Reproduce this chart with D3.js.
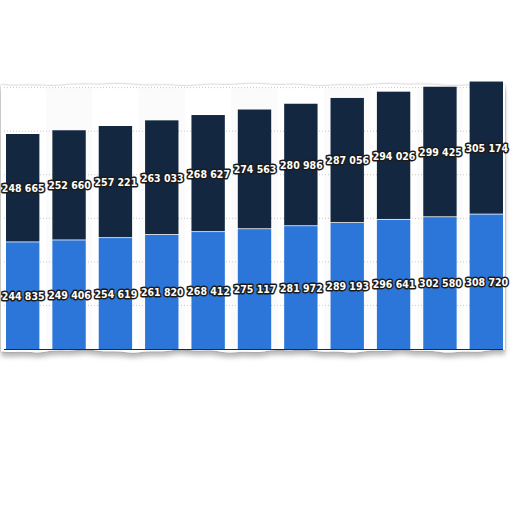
<!DOCTYPE html>
<html>
<head>
<meta charset="utf-8">
<script src="https://cdn.jsdelivr.net/npm/d3@7"></script>
<style>
  html, body { margin: 0; padding: 0; background: #fff; }
  .viz { width: 512px; height: 512px; }
</style>
</head>
<body>
<div class="viz"></div>
<script>
const w = 512;
const h = 512;

// data
const years = ["2009", "2010", "2011", "2012", "2013", "2014", "2015", "2016", "2017", "2018", "2019"];
const lower = [244835, 249406, 254619, 261820, 268412, 275117, 281972, 289193, 296641, 302580, 308720];
const upper = [248665, 252660, 257221, 263033, 268627, 274563, 280986, 287056, 294026, 299425, 305174];
const yTicks = [0, 100000, 200000, 300000, 400000, 500000, 600000];

const blue = "#2b76d8";
const navy = "#132840";

const svg = d3.select(".viz")
    .append("svg")
    .attr("width", w)
    .attr("height", h);

const x = d3.scaleBand()
    .domain(years)
    .range([6, 503])
    .paddingInner(0.28)
    .paddingOuter(0);

const y = d3.scaleLinear()
    .domain([0, 600000])
    .range([349, 87.6]);

// torn paper look
const defs = svg.append("defs");
const f = defs.append("filter").attr("id", "shadow")
    .attr("x", "-5%").attr("y", "-10%").attr("width", "110%").attr("height", "125%");
f.append("feDropShadow")
    .attr("in", "SourceGraphic")
    .attr("dx", 0).attr("dy", 0)
    .attr("stdDeviation", 0.9)
    .attr("flood-color", "#777")
    .attr("flood-opacity", 0.7)
    .attr("result", "s1");
f.append("feDropShadow")
    .attr("in", "SourceGraphic")
    .attr("dx", 0).attr("dy", 5)
    .attr("stdDeviation", 2)
    .attr("flood-color", "#777")
    .attr("flood-opacity", 0.5)
    .attr("result", "s2");
const fm = f.append("feMerge");
fm.append("feMergeNode").attr("in", "s2");
fm.append("feMergeNode").attr("in", "s1");

const edgeTop = [], edgeBottom = [];
for (let px = 1; px <= 505; px += 6) {
    edgeTop.push([px, 85 + Math.sin(px / 23) * 0.8 + Math.sin(px / 7) * 0.4]);
    edgeBottom.push([px, 351 + Math.sin(px / 17) * 1.2 + Math.sin(px / 5) * 0.5]);
}
const paper = edgeTop.concat(edgeBottom.reverse());
svg.append("path")
    .attr("d", d3.line()(paper) + "Z")
    .attr("fill", "#fff")
    .attr("filter", "url(#shadow)");

// faint column bands
svg.selectAll("rect.band")
    .data(years.filter((d, i) => i % 2 === 1))
    .enter()
    .append("rect")
    .attr("class", "band")
    .attr("x", d => x(d) - x.step() * x.paddingInner() / 2)
    .attr("y", 88)
    .attr("width", x.step())
    .attr("height", 261)
    .attr("fill", "#fbfbfb");

// dotted grid
svg.selectAll("line.grid")
    .data(yTicks.slice(1))
    .enter()
    .append("line")
    .attr("class", "grid")
    .attr("x1", 4)
    .attr("x2", 503)
    .attr("y1", d => y(d))
    .attr("y2", d => y(d))
    .attr("stroke", "#c8c8c8")
    .attr("stroke-width", 1)
    .attr("stroke-dasharray", "1,2");

const rows = years.map((d, i) => ({ year: d, lo: lower[i], up: upper[i] }));

svg.selectAll("rect.lo")
    .data(rows)
    .enter()
    .append("rect")
    .attr("class", "lo")
    .attr("x", d => x(d.year))
    .attr("y", d => y(d.lo))
    .attr("width", x.bandwidth())
    .attr("height", d => y(0) - y(d.lo))
    .attr("fill", blue);

svg.selectAll("rect.up")
    .data(rows)
    .enter()
    .append("rect")
    .attr("class", "up")
    .attr("x", d => x(d.year))
    .attr("y", d => y(d.lo + d.up))
    .attr("width", x.bandwidth())
    .attr("height", d => y(d.lo) - y(d.lo + d.up) - 0.8)
    .attr("fill", navy);

// axis line
svg.append("line")
    .attr("x1", 4)
    .attr("x2", 503)
    .attr("y1", y(0) + 0.5)
    .attr("y2", y(0) + 0.5)
    .attr("stroke", "#1e2a36")
    .attr("stroke-width", 1.2);

const fmt = v => d3.format(",")(v).replace(/,/g, " ");

function labels(cls, valueOf, midOf) {
    svg.selectAll("text." + cls)
        .data(rows)
        .enter()
        .append("text")
        .attr("class", cls)
        .attr("x", d => x(d.year) + x.bandwidth() / 2 + 0.5)
        .attr("y", midOf)
        .attr("text-anchor", "middle")
        .attr("dominant-baseline", "central")
        .attr("font-family", "DejaVu Sans Condensed, DejaVu Sans")
        .attr("font-stretch", "condensed")
        .attr("font-weight", "bold")
        .attr("font-size", "10.5px")
        .attr("fill", "#fff")
        .attr("stroke", "#1b1b1b")
        .attr("stroke-width", 3)
        .attr("stroke-linejoin", "round")
        .attr("paint-order", "stroke")
        .text(d => fmt(valueOf(d)));
}

labels("tlo", d => d.lo, d => (y(0) + y(d.lo)) / 2);
labels("tup", d => d.up, d => (y(d.lo) + y(d.lo + d.up)) / 2);
</script>
</body>
</html>
